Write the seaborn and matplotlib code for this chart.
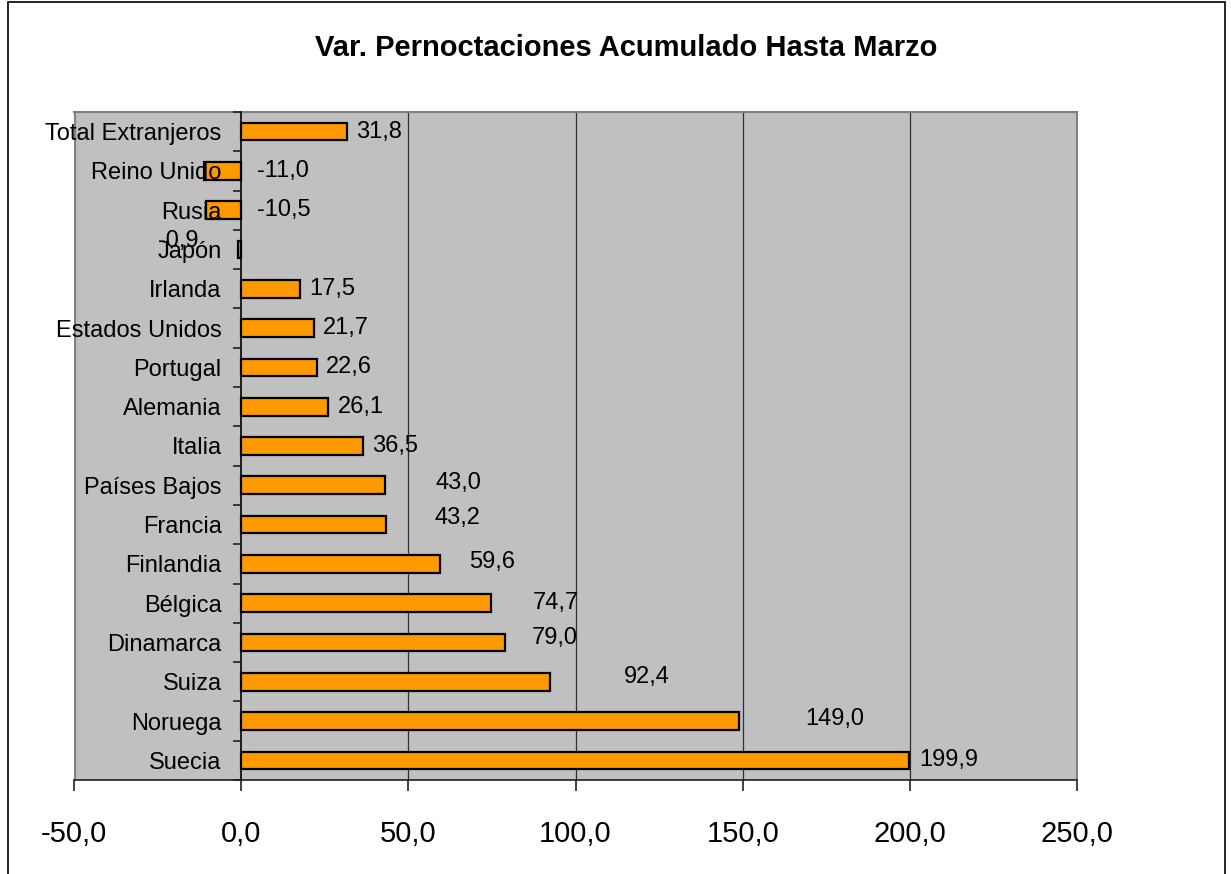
import matplotlib
matplotlib.use('Agg')
import matplotlib.pyplot as plt
import matplotlib.patches as mpatches
import numpy as np
import pandas as pd
import seaborn as sns

# data
paises = ['Total Extranjeros', 'Reino Unido', 'Rusia', 'Japón', 'Irlanda',
          'Estados Unidos', 'Portugal', 'Alemania', 'Italia', 'Países Bajos',
          'Francia', 'Finlandia', 'Bélgica', 'Dinamarca', 'Suiza', 'Noruega', 'Suecia']
variacion = [31.8, -11.0, -10.5, -0.9, 17.5, 21.7, 22.6, 26.1, 36.5, 43.0,
             43.2, 59.6, 74.7, 79.0, 92.4, 149.0, 199.9]
x_ticks = [-50, 0, 50, 100, 150, 200, 250]

# label offsets in pixels (excel places them a bit randomly)
label_dx = [9, 53, 51, -80, 10, 9, 9, 9, 9, 51, 49, 29, 42, 26, 74, 66, 10]
label_dy = [0, 0, 0, 9, 0, 0, 0, 0, 0, 2, 7, 2, 0, 4, 5, 2, 0]

df = pd.DataFrame({'pais': paises, 'var': variacion})

sns.set_style('white')
plt.rcParams['font.family'] = ['Liberation Sans', 'DejaVu Sans']
plt.rcParams['text.color'] = 'black'
plt.rcParams['xtick.color'] = 'black'
plt.rcParams['ytick.color'] = 'black'

fig = plt.figure(figsize=(12.31, 8.74), dpi=100)
ax = fig.add_axes([74 / 1231, 1 - 780 / 874, (1077 - 74) / 1231, (780 - 112) / 874])
ax.set_facecolor('#C0C0C0')

# vertical gridlines
for v in [50, 100, 150, 200]:
    ax.axvline(v, color='#303030', lw=0.9, zorder=0.5)

sns.barplot(data=df, x='var', y='pais', orient='h', color='#FF9900',
            edgecolor='black', linewidth=1.6, width=0.45, saturation=1, ax=ax, zorder=2)

ax.set_xlim(-50, 250)
ax.set_ylim(16.5, -0.5)
ax.set_xticks(x_ticks)
ax.set_xticklabels([f'{t:.1f}'.replace('.', ',') for t in x_ticks], fontsize=21, color='black')
ax.set_xlabel('')
ax.set_ylabel('')

# y axis sits at zero like in excel
ax.spines['left'].set_position(('data', 0))
ax.spines['left'].set_color('black')
ax.spines['left'].set_linewidth(1.2)
ax.spines['left'].set_zorder(3)
ax.spines['bottom'].set_color('#202020')
ax.spines['bottom'].set_linewidth(1.2)
for s in ['top', 'right']:
    ax.spines[s].set_color('#808080')
    ax.spines[s].set_linewidth(1.5)
ax.axvline(-50, color='#808080', lw=3, zorder=1)

ax.tick_params(axis='y', which='major', length=0, pad=14, labelsize=17, labelcolor='black')
ax.set_yticks(np.arange(-0.5, 17, 1), minor=True)
ax.tick_params(axis='y', which='minor', length=6, width=1.2, color='#202020', direction='out', left=True)
ax.tick_params(axis='x', which='major', length=8, width=1.2, color='#202020', direction='out', pad=21, bottom=True)
# names are drawn over the bars in the original
ax.yaxis.set_zorder(6)

# value labels
for i, v in enumerate(variacion):
    ax.annotate(f'{v:.1f}'.replace('.', ','), xy=(v, i), xytext=(label_dx[i], label_dy[i]),
                textcoords='offset pixels', ha='left', va='center', fontsize=17,
                color='black', zorder=7)

fig.text(626 / 1231, 1 - 48 / 874, 'Var. Pernoctaciones Acumulado Hasta Marzo',
         ha='center', va='center', fontsize=21, fontweight='bold', color='black')

# chart frame
fig.patches.append(mpatches.Rectangle((8 / 1231, -0.01), (1225 - 8) / 1231, 1 - 2 / 874 + 0.01,
                                      transform=fig.transFigure, fill=False, edgecolor='black', lw=1.2))

fig.savefig('out.png', dpi=100)
